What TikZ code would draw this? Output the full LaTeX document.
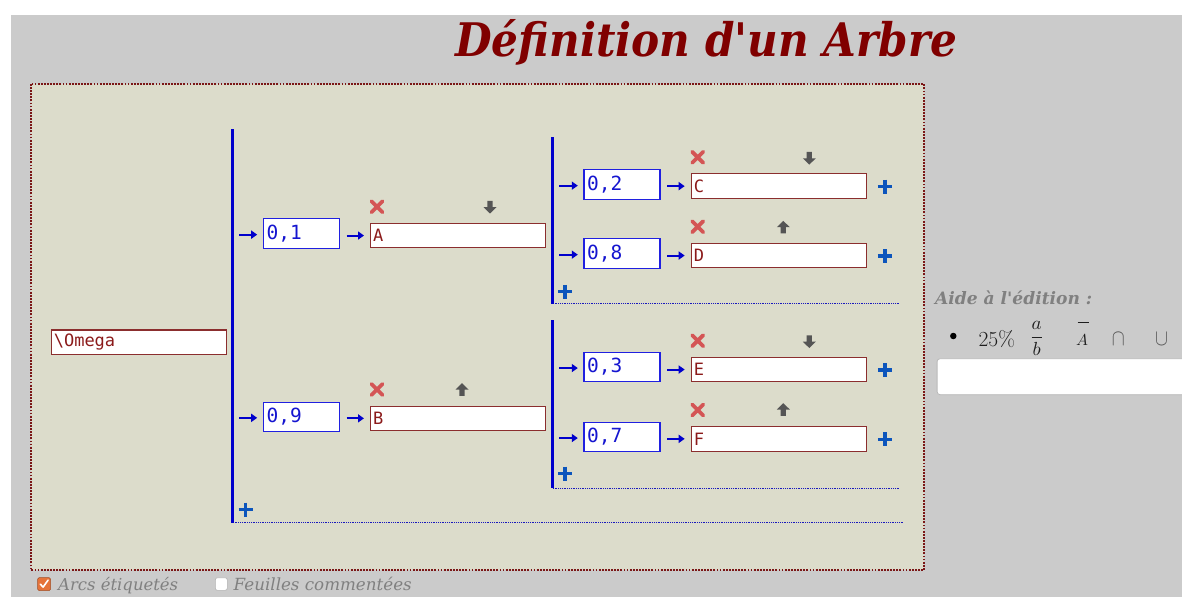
\documentclass[tikz,border=0pt]{standalone}
\usepackage{fontspec}
\usepackage{amsmath}
\usetikzlibrary{arrows.meta,calc}
\newfontfamily\dvserif{DejaVu Serif}[Ligatures=TeXOff]
\newfontfamily\dvmono{DejaVu Sans Mono}
\definecolor{bggrey}{HTML}{CBCBCB}
\definecolor{panelfill}{HTML}{DCDCCB}
\definecolor{paneldot}{HTML}{7A1616}
\definecolor{titlered}{HTML}{800000}
\definecolor{leafborder}{HTML}{8B2E2E}
\definecolor{leaftext}{HTML}{8B1A1A}
\definecolor{probborder}{HTML}{2020E0}
\definecolor{probtext}{HTML}{1515D0}
\definecolor{linec}{HTML}{0000CC}
\definecolor{plusc}{HTML}{0C55BC}
\definecolor{crossc}{HTML}{D45555}
\definecolor{iconc}{HTML}{555555}
\definecolor{helpgrey}{HTML}{808080}
\definecolor{mathc}{HTML}{1E1E1E}
\definecolor{chkorange}{HTML}{E5733A}
\begin{document}
\begin{tikzpicture}[x=1bp,y=-1bp,
  leaf/.style={anchor=north west, draw=leafborder, fill=white, line width=1.2bp,
    minimum height=24.5bp, text width=170bp, inner xsep=2.5bp, inner ysep=0pt, align=left,
    font=\dvmono\fontsize{17bp}{18bp}\selectfont, text=leaftext},
  prob/.style={anchor=north west, draw=probborder, fill=white, line width=1.2bp,
    minimum height=29.5bp, text width=69.5bp, inner xsep=3.3bp, inner ysep=0pt, align=left,
    font=\dvmono\fontsize{19.5bp}{21bp}\selectfont, text=probtext},
  vline/.style={linec, line width=2.6bp},
  hdots/.style={linec!80!gray, line width=0.9bp, dash pattern=on 0.9bp off 0.9bp},
  barrow/.style={linec, line width=2bp, -{Triangle[length=6bp,width=8bp]}},
  plusicon/.pic={\draw[plusc, line width=3.4bp] (-7,0) -- (7,0) (0,-7) -- (0,7);},
  crossicon/.pic={\draw[crossc, line width=3.8bp, line cap=round] (-5.5,-5.5) -- (5.5,5.5) (-5.5,5.5) -- (5.5,-5.5);},
  downicon/.pic={\fill[iconc] (-2.6,-6.3) -- (2.6,-6.3) -- (2.6,0) -- (6.5,0) -- (0,6.3) -- (-6.5,0) -- (-2.6,0) -- cycle;},
  upicon/.pic={\fill[iconc] (-2.6,6.3) -- (2.6,6.3) -- (2.6,0) -- (6.5,0) -- (0,-6.3) -- (-6.5,0) -- (-2.6,0) -- cycle;},
  helptxt/.style={anchor=base west, inner sep=0pt, text=helpgrey},
  mathtxt/.style={inner sep=0pt, text=mathc}
]
\useasboundingbox (0,0) rectangle (1182,597);
\fill[white] (0,0) rectangle (1182,597);
\fill[bggrey] (11,15) rectangle (1182,597);
\draw[paneldot, fill=panelfill, line width=2.2bp, dash pattern=on 1.8bp off 1.3bp] (30.7,84) rectangle (924,570);

% title
\node[anchor=base west, inner sep=0pt, text=titlered] (title) at (455,56.7)
  {\resizebox{502bp}{37bp}{\dvserif\bfseries\itshape Définition d'un Arbre}};

% root
\node[leaf, text width=170.3bp] (root) at (50.7,329.3) {\textbackslash Omega};

% level 1 structure
\coordinate (L1t) at (232.7,129.3);
\coordinate (L1b) at (232.7,522.5);
\coordinate (L1e) at (903,522.5);
\draw[hdots] (L1b) -- (L1e);
\draw[vline] (L1t) -- (L1b);
\pic at ($(L1b)+(12.8,-13)$) {plusicon};

\node[prob] (p01) at (262.7,218.3) {0,1};
\node[leaf] (A) at (370,222.7) {A};
\node[prob] (p09) at (262.7,401.5) {0,9};
\node[leaf] (B) at (370,405.5) {B};

% level 2 structure (under A)
\coordinate (L2at) at (552.7,137.3);
\coordinate (L2ab) at (552.7,303.8);
\coordinate (L2ae) at (899,303.8);
\draw[hdots] (L2ab) -- (L2ae);
\draw[vline] (L2at) -- (L2ab);
\pic at ($(L2ab)+(12.3,-12)$) {plusicon};

\node[prob] (p02) at (583.3,169.3) {0,2};
\node[leaf] (C) at (690.7,173.3) {C};
\node[prob] (p08) at (583.3,238.3) {0,8};
\node[leaf] (D) at (690.7,242.7) {D};

% level 2 structure (under B)
\coordinate (L2bt) at (552.7,320);
\coordinate (L2bb) at (552.7,488);
\coordinate (L2be) at (899,488);
\draw[hdots] (L2bb) -- (L2be);
\draw[vline] (L2bt) -- (L2bb);
\pic at ($(L2bb)+(12.3,-14.5)$) {plusicon};

\node[prob] (p03) at (583.3,351.7) {0,3};
\node[leaf] (E) at (690.7,356.7) {E};
\node[prob] (p07) at (583.3,421.7) {0,7};
\node[leaf] (F) at (690.7,426) {F};

% arrows from vertical lines to probability boxes
\foreach \p/\L in {p01/L1t, p09/L1t, p02/L2at, p08/L2at, p03/L2bt, p07/L2bt}{
  \draw[barrow] ($(\p.west -| \L)+(6.5,1)$) -- ($(\p.west)+(-5.5,1)$);
}
% arrows from probability boxes to leaves
\foreach \p/\n in {p01/A, p09/B, p02/C, p08/D, p03/E, p07/F}{
  \draw[barrow] ($(\n.west -| \p.east)+(6.5,0)$) -- ($(\n.west)+(-6,0)$);
}
% icons above leaves
\foreach \n in {A,B,C,D,E,F}{
  \pic at ($(\n.north west)+(7,-16)$) {crossicon};
}
\pic at ($(A.north west)+(120,-15.5)$) {downicon};
\pic at ($(B.north west)+(92,-16)$) {upicon};
\pic at ($(C.north west)+(118.6,-15)$) {downicon};
\pic at ($(D.north west)+(92.6,-15.5)$) {upicon};
\pic at ($(E.north west)+(118.6,-15)$) {downicon};
\pic at ($(F.north west)+(92.6,-16.5)$) {upicon};
% plus icons right of leaves
\foreach \n in {C,D,E,F}{
  \pic at ($(\n.east)+(18,0.5)$) {plusicon};
}

% help area
\node[helptxt] (aide) at (935,305)
  {\resizebox{157bp}{!}{\dvserif\bfseries\itshape Aide à l'édition :}};
\node[circle, fill=black, inner sep=0pt, minimum size=6.5bp] (bul) at (953.3,336) {};
\node[mathtxt, anchor=base] (pct) at (996.7,346.5)
  {\fontsize{21.5bp}{24bp}\selectfont 25\%};
\node[mathtxt, anchor=center] (frac) at (1036.7,338.3)
  {\resizebox*{!}{34bp}{$\dfrac{a}{b}$}};
\node[mathtxt, anchor=base] (abar) at (1082.2,345.7) {\scalebox{1.6}{$A$}};
\draw[mathc, line width=1bp] ($(abar.north west)+(1.5,-12.5)$) -- ($(abar.north east)+(0.5,-12.5)$);
\node[mathtxt, anchor=base, text=mathc!75!white] (cap) at (1118.3,345.7)
  {\scalebox{1.95}[2.3]{$\cap$}};
\node[mathtxt, anchor=base, text=mathc!75!white] (cup) at (1161.7,345.7)
  {\scalebox{1.95}[2.3]{$\cup$}};
\node[anchor=north west, draw=gray!55, fill=white, rounded corners=3bp, line width=0.8bp,
  minimum width=270bp, minimum height=36bp] (input) at (936.7,358.3) {};

% bottom options
\node[anchor=north west, draw=chkorange!70!black, fill=chkorange, rounded corners=1.5bp,
  line width=0.6bp, minimum width=13bp, minimum height=13bp, inner sep=0pt] (cb1) at (37.3,577.3) {};
\draw[white, line width=1.6bp, line cap=round, line join=round]
  ($(cb1.center)+(-3.8,0)$) -- ($(cb1.center)+(-1,3)$) -- ($(cb1.center)+(4,-4)$);
\node[helptxt] (arcs) at (58,590.5)
  {\resizebox{120bp}{!}{\dvserif\itshape Arcs étiquetés}};
\node[anchor=north west, draw=gray!60, fill=white, rounded corners=2bp,
  line width=0.6bp, minimum width=12bp, minimum height=12.5bp, inner sep=0pt] (cb2) at (215,577.5) {};
\node[helptxt] (feuil) at (233.5,590.5)
  {\resizebox{178bp}{!}{\dvserif\itshape Feuilles commentées}};
\end{tikzpicture}
\end{document}
